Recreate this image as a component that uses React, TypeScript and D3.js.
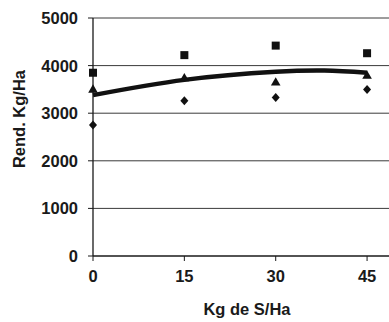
import React from "react";
import * as d3 from "d3";

const doses = [0, 15, 30, 45];
const seriesSquare = [3850, 4220, 4420, 4260];
const seriesTriangle = [3490, 3730, 3640, 3780];
const seriesDiamond = [2750, 3260, 3330, 3500];
// fitted trend line
const trendX = [0, 15, 30, 38, 45];
const trendY = [3380, 3700, 3870, 3895, 3850];
const yTicks = [0, 1000, 2000, 3000, 4000, 5000];

const W = 389;
const H = 322;
const margin = { top: 18, right: 0, bottom: 66, left: 93 };

const App = () => {
  const x = d3.scaleLinear().domain([0, 48.6]).range([margin.left, W - margin.right]);
  const y = d3.scaleLinear().domain([0, 5000]).range([H - margin.bottom, margin.top]);

  const line = d3
    .line<number>()
    .x((d, i) => x(trendX[i]))
    .y((d) => y(d))
    .curve(d3.curveCatmullRom.alpha(0.5));

  const font = "'Liberation Sans', Arial, sans-serif";
  const ink = "#1a1a1a";
  const fs = 16.5;

  return (
    <svg
      width={W}
      height={H}
      style={{ position: "absolute", left: 0, top: 0, background: "#fff" }}
      fontFamily={font}
    >
      {/* gridlines */}
      {yTicks.slice(1).map((t) => (
        <line key={t} x1={x(0)} x2={W} y1={y(t)} y2={y(t)} stroke="#3a3a3a" strokeWidth={1} />
      ))}
      {/* y axis */}
      <line x1={x(0)} x2={x(0)} y1={y(5000)} y2={y(0)} stroke={ink} strokeWidth={1.3} />
      {yTicks.map((t) => (
        <g key={t}>
          <line x1={x(0) - 5} x2={x(0)} y1={y(t)} y2={y(t)} stroke={ink} />
          <text
            x={78}
            y={y(t)}
            dy="0.36em"
            textAnchor="end"
            fontSize={fs}
            fontWeight="bold"
            fill={ink}
          >
            {t}
          </text>
        </g>
      ))}
      {/* x axis */}
      <line x1={x(0)} x2={W} y1={y(0)} y2={y(0)} stroke={ink} strokeWidth={1.3} />
      {doses.map((d) => (
        <g key={d}>
          <line x1={x(d)} x2={x(d)} y1={y(0)} y2={y(0) + 5} stroke={ink} />
          <text
            x={x(d)}
            y={282}
            textAnchor="middle"
            fontSize={fs}
            fontWeight="bold"
            fill={ink}
          >
            {d}
          </text>
        </g>
      ))}
      <text
        x={247}
        y={315}
        textAnchor="middle"
        fontSize={fs}
        fontWeight="bold"
        fill={ink}
      >
        Kg de S/Ha
      </text>
      <text
        transform={`translate(25, 119) rotate(-90)`}
        textAnchor="middle"
        fontSize={fs}
        fontWeight="bold"
        fill={ink}
      >
        Rend. Kg/Ha
      </text>

      {/* trend */}
      <path d={line(trendY) || ""} fill="none" stroke="#111" strokeWidth={4.5} />

      {/* markers */}
      {seriesSquare.map((v, i) => (
        <rect key={"s" + i} x={x(doses[i]) - 4} y={y(v) - 4} width={8} height={8} fill="#111" />
      ))}
      {seriesTriangle.map((v, i) => (
        <path
          key={"t" + i}
          d={d3.symbol(d3.symbolTriangle, 40)() || ""}
          transform={`translate(${x(doses[i])},${y(v)})`}
          fill="#111"
        />
      ))}
      {seriesDiamond.map((v, i) => (
        <path
          key={"d" + i}
          d="M0,-4.5L4,0L0,4.5L-4,0Z"
          transform={`translate(${x(doses[i])},${y(v)})`}
          fill="#111"
        />
      ))}
    </svg>
  );
};

export default App;
